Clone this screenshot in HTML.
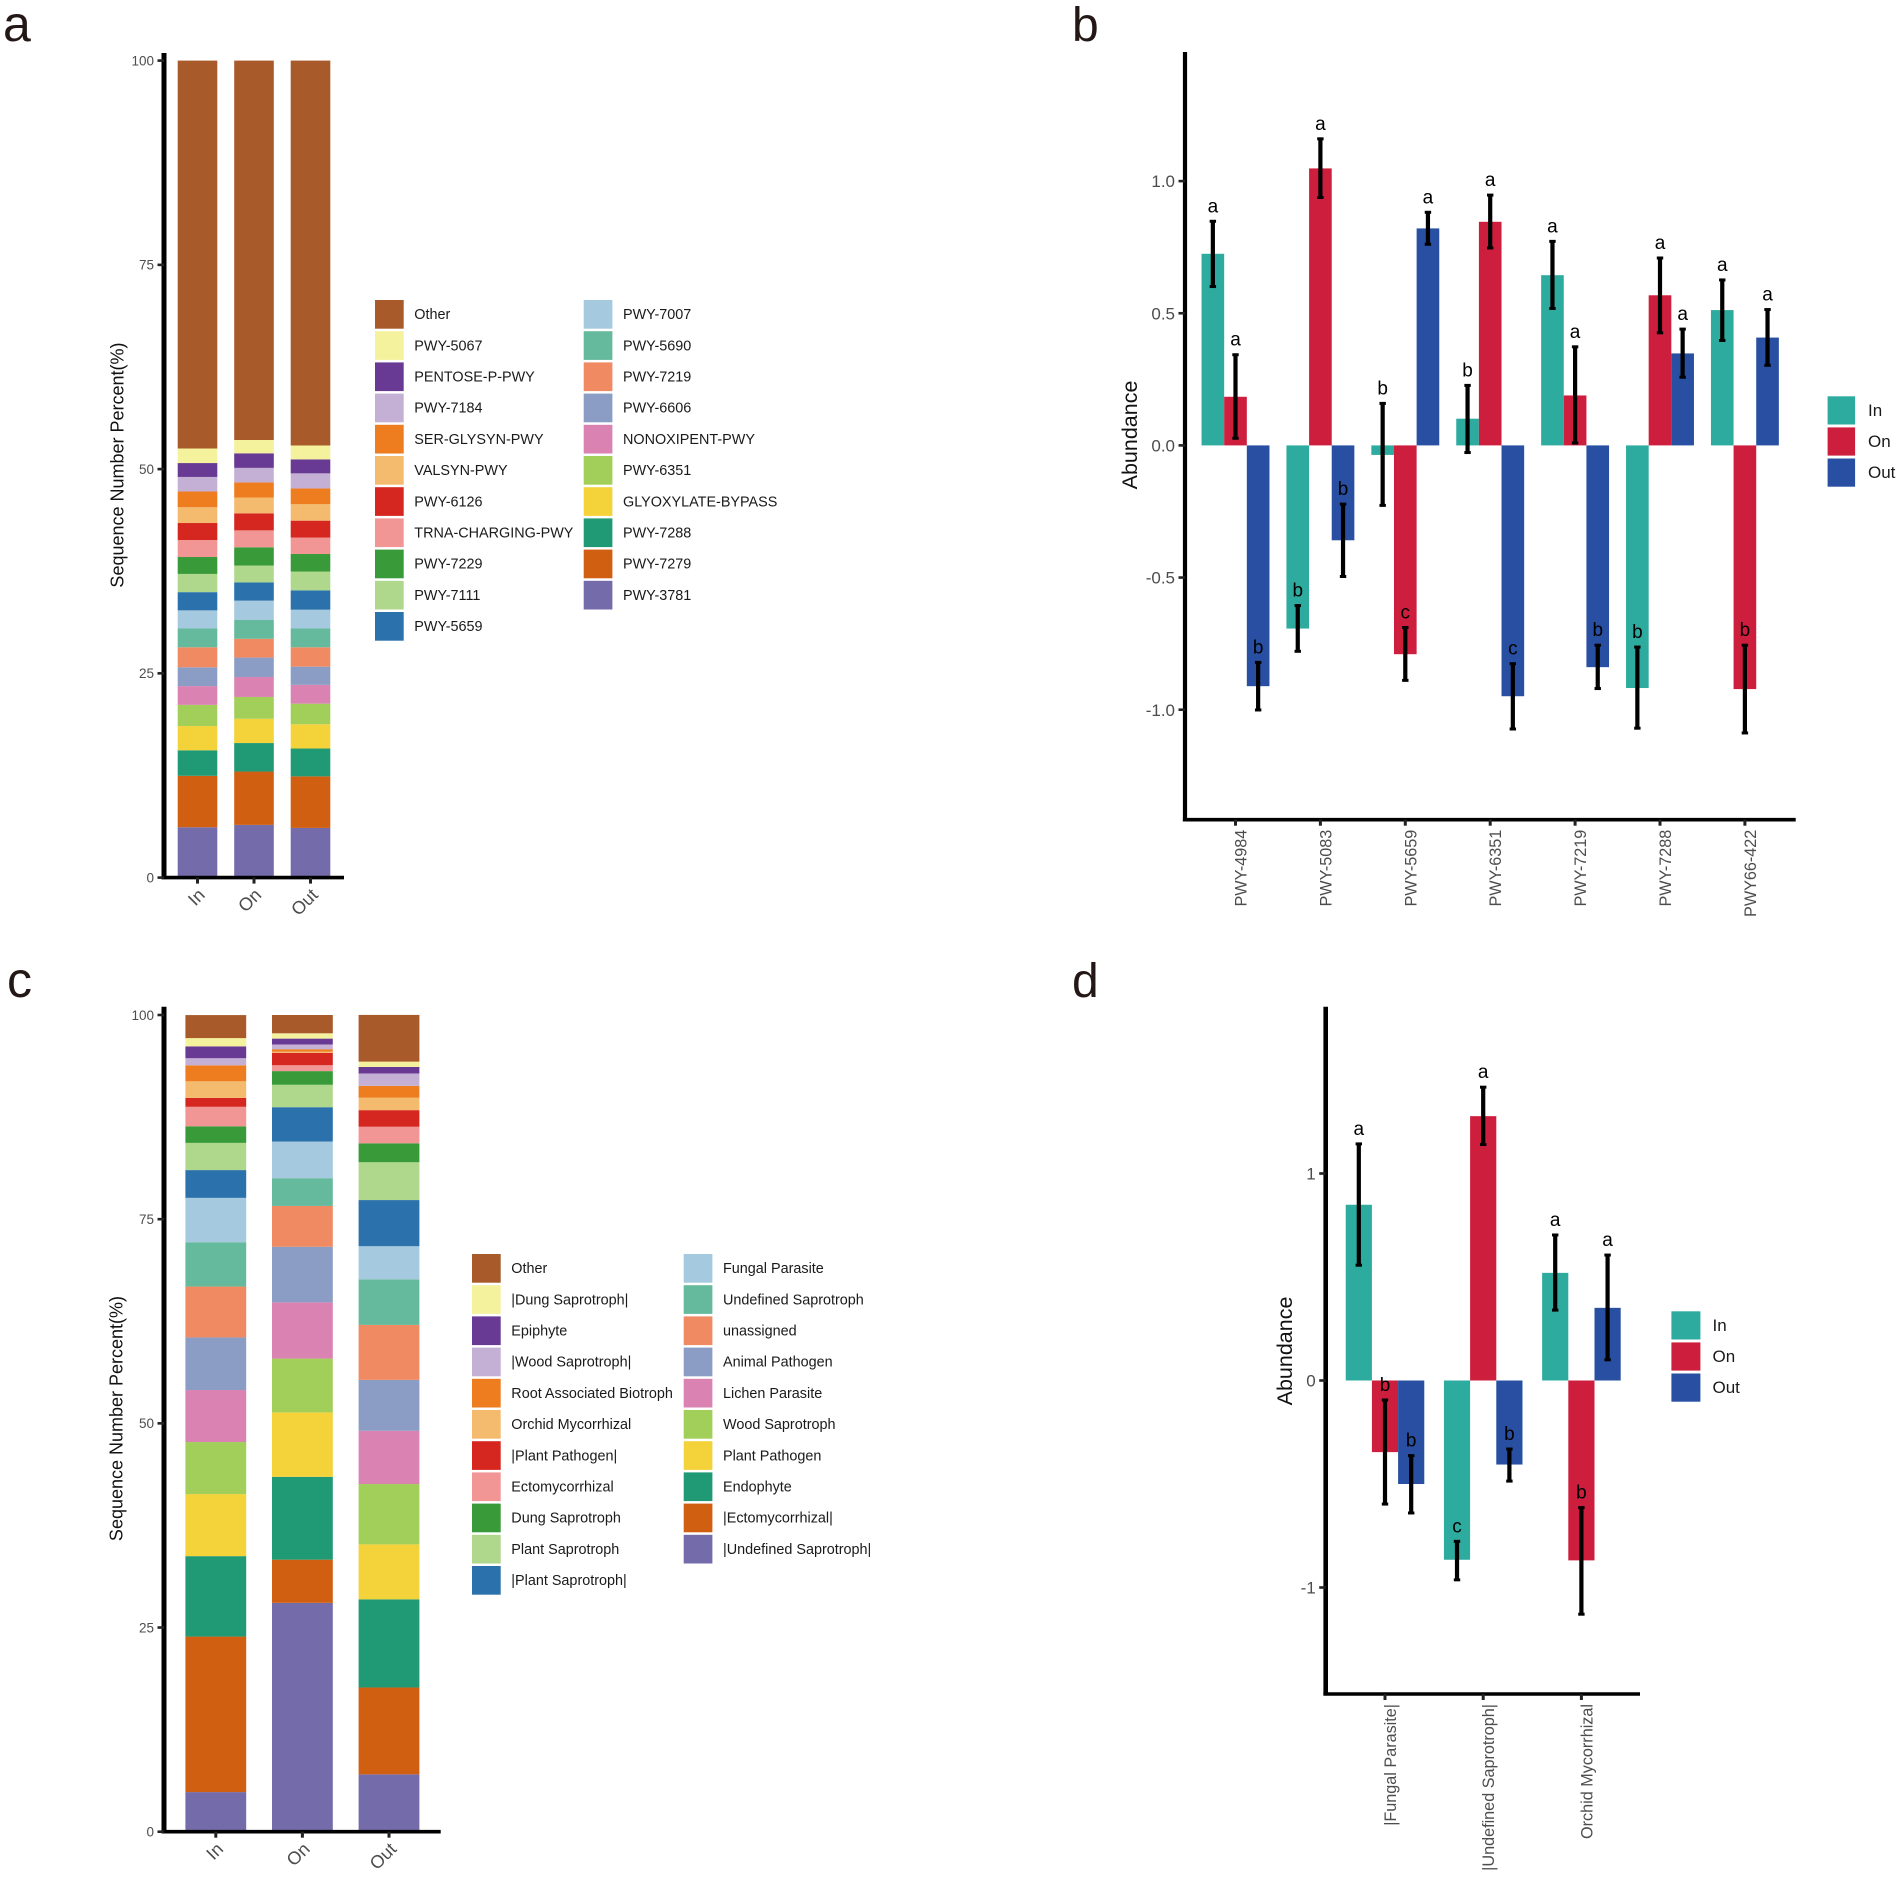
<!DOCTYPE html>
<html lang="en">
<head>
<meta charset="utf-8">
<title>Stacked composition and abundance charts</title>
<style>
html,body{margin:0;padding:0;background:#fff;}
svg{display:block;font-family:"Liberation Sans",Arial,sans-serif;}
</style>
</head>
<body>
<svg id="figure" xmlns="http://www.w3.org/2000/svg" width="1902" height="1877" viewBox="0 0 1902 1877">
  <rect x="0" y="0" width="1902" height="1877" fill="#ffffff"/>
  <text x="3" y="41" font-size="50" fill="#231815">a</text>
  <text x="1072" y="41" font-size="48" fill="#231815">b</text>
  <text x="7" y="997" font-size="50" fill="#231815">c</text>
  <text x="1072" y="997" font-size="48" fill="#231815">d</text>
  <text transform="translate(123.5,465) rotate(-90)" text-anchor="middle" font-size="18" fill="#111">Sequence Number Percent(%)</text>
  <text transform="translate(1137,435) rotate(-90)" text-anchor="middle" font-size="21.5" fill="#111">Abundance</text>
  <text transform="translate(122.5,1418.5) rotate(-90)" text-anchor="middle" font-size="18" fill="#111">Sequence Number Percent(%)</text>
  <text transform="translate(1292,1351) rotate(-90)" text-anchor="middle" font-size="21.5" fill="#111">Abundance</text>
</svg>
<script>
/* ---------- shared category data ---------- */
const stackCategories = ['In', 'On', 'Out'];
const stackTicks = [0, 25, 50, 75, 100];
const stackColors = ['#746BAA','#D15F12','#1F9A74','#F4D23A','#A2CF59','#DA83B3','#8B9DC4','#F08A62','#65BA9D','#A5CADF','#2B71AC','#AFD88C','#389A39','#F29695','#D52620','#F4BB6F','#EE7D20','#C5B0D5','#683A93','#F5F29E','#A85A2A'];

/* ---------- panel a: stacked shares, listed bottom to top ---------- */
const panelASeries = ['PWY-3781','PWY-7279','PWY-7288','GLYOXYLATE-BYPASS','PWY-6351','NONOXIPENT-PWY','PWY-6606','PWY-7219','PWY-5690','PWY-7007','PWY-5659','PWY-7111','PWY-7229','TRNA-CHARGING-PWY','PWY-6126','VALSYN-PWY','SER-GLYSYN-PWY','PWY-7184','PENTOSE-P-PWY','PWY-5067','Other'];
const panelAIn = [6.16,6.3,3.12,2.97,2.59,2.3,2.3,2.45,2.3,2.22,2.23,2.23,2.07,2.08,2.08,1.93,1.93,1.78,1.7,1.78,47.48];
const panelAOn = [6.45,6.53,3.49,2.97,2.67,2.44,2.38,2.3,2.3,2.37,2.23,2.07,2.23,2.07,2.08,1.93,1.86,1.78,1.78,1.63,46.44];
const panelAOut = [6.08,6.31,3.41,2.97,2.52,2.3,2.23,2.37,2.3,2.3,2.37,2.3,2.15,2.01,2.07,2.01,1.93,1.85,1.71,1.7,47.11];

/* ---------- panel c: stacked shares, listed bottom to top ---------- */
const panelCSeries = ['|Undefined Saprotroph|','|Ectomycorrhizal|','Endophyte','Plant Pathogen','Wood Saprotroph','Lichen Parasite','Animal Pathogen','unassigned','Undefined Saprotroph','Fungal Parasite','|Plant Saprotroph|','Plant Saprotroph','Dung Saprotroph','Ectomycorrhizal','|Plant Pathogen|','Orchid Mycorrhizal','Root Associated Biotroph','|Wood Saprotroph|','Epiphyte','|Dung Saprotroph|','Other'];
const panelCIn = [4.85,19.04,9.85,7.6,6.37,6.37,6.44,6.23,5.43,5.43,3.4,3.33,2.03,2.39,1.09,2.03,1.96,0.87,1.45,1.01,2.82];
const panelCOn = [28.02,5.29,10.14,7.89,6.59,6.88,6.81,5,3.4,4.49,4.2,2.75,1.67,0.72,1.52,0.15,0.29,0.58,0.72,0.65,2.24];
const panelCOut = [7.02,10.64,10.79,6.73,7.39,6.52,6.23,6.73,5.58,4.06,5.65,4.63,2.32,2.03,2.03,1.52,1.45,1.52,0.8,0.65,5.72];

/* ---------- panels b and d: group series ---------- */
const groupNames = ['In', 'On', 'Out'];
const groupColors = ['#2EAB9F', '#CE1E3D', '#284FA2'];

const panelBCategories = ['PWY-4984','PWY-5083','PWY-5659','PWY-6351','PWY-7219','PWY-7288','PWY66-422'];
const panelBTicks = [-1, -0.5, 0, 0.5, 1];
const panelBTickLabels = ['-1.0', '-0.5', '0.0', '0.5', '1.0'];
const panelBIn = [0.725,-0.693,-0.036,0.101,0.644,-0.918,0.512];
const panelBOn = [0.184,1.048,-0.79,0.846,0.189,0.568,-0.922];
const panelBOut = [-0.911,-0.359,0.821,-0.949,-0.839,0.348,0.408];
const panelBInHigh = [0.848,-0.606,0.159,0.227,0.772,-0.763,0.626];
const panelBInLow = [0.601,-0.779,-0.227,-0.027,0.518,-1.07,0.397];
const panelBOnHigh = [0.343,1.16,-0.689,0.947,0.373,0.709,-0.756];
const panelBOnLow = [0.027,0.938,-0.889,0.747,0.009,0.426,-1.088];
const panelBOutHigh = [-0.821,-0.222,0.882,-0.826,-0.756,0.44,0.514];
const panelBOutLow = [-1.001,-0.496,0.761,-1.073,-0.92,0.258,0.303];
const panelBInLetters = ['a','b','b','b','a','b','a'];
const panelBOnLetters = ['a','a','c','a','a','a','b'];
const panelBOutLetters = ['b','b','a','c','b','a','a'];

const panelDCategories = ['|Fungal Parasite|','|Undefined Saprotroph|','Orchid Mycorrhizal'];
const panelDTicks = [-1, 0, 1];
const panelDTickLabels = ['-1', '0', '1'];
const panelDIn = [0.849,-0.866,0.52];
const panelDOn = [-0.346,1.277,-0.869];
const panelDOut = [-0.5,-0.406,0.351];
const panelDInHigh = [1.143,-0.777,0.703];
const panelDInLow = [0.557,-0.963,0.34];
const panelDOnHigh = [-0.094,1.417,-0.614];
const panelDOnLow = [-0.597,1.14,-1.129];
const panelDOutHigh = [-0.363,-0.331,0.606];
const panelDOutLow = [-0.64,-0.486,0.1];
const panelDInLetters = ['a','c','a'];
const panelDOnLetters = ['b','a','b'];
const panelDOutLetters = ['b','b','a'];

/* ---------- drawing helpers ---------- */
const NS = 'http://www.w3.org/2000/svg';
const figure = document.getElementById('figure');

function shape(tag, attrs, text) {
  const node = document.createElementNS(NS, tag);
  for (const key in attrs) node.setAttribute(key, attrs[key]);
  if (text !== undefined) node.textContent = text;
  figure.appendChild(node);
  return node;
}

function drawAxes(p) {
  const yAxis = shape('line', {x1: p.axisX, x2: p.axisX, y1: p.axisTop, y2: p.axisBottom + 1.5, stroke: '#000', 'stroke-width': p.yAxisWidth});
  
  
  const xAxis = shape('line', {x1: p.axisX - p.yAxisWidth / 2, x2: p.axisRight, y1: p.axisBottom, y2: p.axisBottom, stroke: '#000', 'stroke-width': 3.6});
  
  
}

function drawYTicks(p, ticks, labels, y) {
  ticks.forEach(function (value, i) {
    const mark = shape('line', {x1: p.axisX - 6.5, x2: p.axisX, y1: y(value), y2: y(value), stroke: '#222', 'stroke-width': 2.6});
    
    
    const label = shape('text', {x: p.axisX - 10, y: y(value), dy: '.36em', 'text-anchor': 'end', 'font-size': p.yTickFont, fill: '#4d4d4d'}, labels[i]);
    
    
  });
}

function drawLegendEntry(p, index, name, color, x, y, w, h, textX, fontSize) {
  const swatch = shape('rect', {x: x, y: y, width: w, height: h, fill: color});
  
  
  const label = shape('text', {x: textX, y: y + h / 2, dy: '.33em', 'font-size': fontSize, fill: '#1a1a1a'}, name);
  
  
}

function drawStacked(p, categories, columns, series, ticks) {
  const y = function (v) { return p.zero - v * p.unit; };
  const x = function (i) { return p.firstCenter + i * p.step; };
  columns.forEach(function (values, c) {
    let total = 0;
    values.forEach(function (value, s) {
      const bar = shape('rect', {x: x(c) - p.barWidth / 2, y: y(total + value), width: p.barWidth, height: value * p.unit, fill: stackColors[s]});
      
      
      total += value;
    });
  });
  drawAxes(p);
  drawYTicks(p, ticks, ticks.map(String), y);
  categories.forEach(function (cat, c) {
    const mark = shape('line', {x1: x(c), x2: x(c), y1: p.axisBottom, y2: p.axisBottom + 6, stroke: '#222', 'stroke-width': 3});
    
    
    const label = shape('text', {transform: 'translate(' + (x(c) + 8.5) + ',' + (p.axisBottom + 18.5) + ') rotate(-45)', 'text-anchor': 'end', 'font-size': 18, fill: '#4d4d4d'}, cat);
    
    
  });
  for (let i = 0; i < series.length; i++) {
    const s = series.length - 1 - i;
    const col = i < 11 ? 0 : 1;
    const row = i < 11 ? i : i - 11;
    drawLegendEntry(p, i, series[s], stackColors[s], p.legendX[col], p.legendY + row * 31.2, 28.7, 28.7, p.legendX[col] + 39.3, 14.4);
  }
}

function drawGrouped(p, categories, values, highs, lows, letters, ticks, tickLabels) {
  const y = function (v) { return p.zero - v * p.unit; };
  const center = function (c) { return p.firstCenter + c * p.step; };
  const barW = p.step * 0.8 / 3;
  const barX = function (c, g) { return center(c) + (g - 1) * barW; };
  values.forEach(function (series, g) {
    series.forEach(function (value, c) {
      const bar = shape('rect', {x: barX(c, g) - barW / 2, y: Math.min(y(value), y(0)), width: barW, height: Math.abs(value) * p.unit, fill: groupColors[g]});
      
      
    });
  });
  values.forEach(function (series, g) {
    series.forEach(function (value, c) {
      const cx = barX(c, g);
      const stem = shape('line', {x1: cx, x2: cx, y1: y(highs[g][c]), y2: y(lows[g][c]), stroke: '#000', 'stroke-width': 4.2});
      
      
      const capTop = shape('line', {x1: cx - 3.2, x2: cx + 3.2, y1: y(highs[g][c]), y2: y(highs[g][c]), stroke: '#000', 'stroke-width': 3});
      
      
      const capBottom = shape('line', {x1: cx - 3.2, x2: cx + 3.2, y1: y(lows[g][c]), y2: y(lows[g][c]), stroke: '#000', 'stroke-width': 3});
      
      
      const letter = shape('text', {x: cx, y: y(highs[g][c]) - 9, 'text-anchor': 'middle', 'font-size': 19, fill: '#000'}, letters[g][c]);
      
      
    });
  });
  drawAxes(p);
  drawYTicks(p, ticks, tickLabels, y);
  categories.forEach(function (cat, c) {
    const mark = shape('line', {x1: center(c), x2: center(c), y1: p.axisBottom, y2: p.axisBottom + 6, stroke: '#222', 'stroke-width': 3});
    
    
    const label = shape('text', {transform: 'translate(' + (center(c) + 11) + ',' + (p.axisBottom + 10) + ') rotate(-90)', 'text-anchor': 'end', 'font-size': 16.2, fill: '#4d4d4d'}, cat);
    
    
  });
  groupNames.forEach(function (name, g) {
    drawLegendEntry(p, g, name, groupColors[g], p.legendX, p.legendY + g * 31.1, p.legendW, 28.2, p.legendTextX, 17);
  });
}

/* ---------- panels ---------- */
drawStacked({name: 'panel-a', zero: 877.6, unit: 8.17, firstCenter: 197.5, step: 56.5, barWidth: 39.6,
  axisX: 164, axisTop: 53, axisBottom: 877.6, axisRight: 344, yAxisWidth: 5, yTickFont: 13.5,
  legendX: [375, 583.7], legendY: 300}, stackCategories, [panelAIn, panelAOn, panelAOut], panelASeries, stackTicks);

drawGrouped({name: 'panel-b', zero: 445.4, unit: 264.3, firstCenter: 1235.5, step: 84.9,
  axisX: 1185, axisTop: 52, axisBottom: 819.7, axisRight: 1795.7, yAxisWidth: 4.2, yTickFont: 17,
  legendX: 1827.6, legendY: 396.3, legendW: 27.5, legendTextX: 1868}, panelBCategories,
  [panelBIn, panelBOn, panelBOut], [panelBInHigh, panelBOnHigh, panelBOutHigh], [panelBInLow, panelBOnLow, panelBOutLow],
  [panelBInLetters, panelBOnLetters, panelBOutLetters], panelBTicks, panelBTickLabels);

drawStacked({name: 'panel-c', zero: 1831.7, unit: 8.167, firstCenter: 215.8, step: 86.6, barWidth: 60.8,
  axisX: 164, axisTop: 1006.8, axisBottom: 1831.7, axisRight: 440.7, yAxisWidth: 5, yTickFont: 13.5,
  legendX: [472, 683.7], legendY: 1254}, stackCategories, [panelCIn, panelCOn, panelCOut], panelCSeries, stackTicks);

drawGrouped({name: 'panel-d', zero: 1380.5, unit: 207, firstCenter: 1385, step: 98.2,
  axisX: 1325.7, axisTop: 1006.8, axisBottom: 1694, axisRight: 1640, yAxisWidth: 4.6, yTickFont: 17,
  legendX: 1671.4, legendY: 1311.3, legendW: 29, legendTextX: 1712.5}, panelDCategories,
  [panelDIn, panelDOn, panelDOut], [panelDInHigh, panelDOnHigh, panelDOutHigh], [panelDInLow, panelDOnLow, panelDOutLow],
  [panelDInLetters, panelDOnLetters, panelDOutLetters], panelDTicks, panelDTickLabels);
</script>
</body>
</html>
